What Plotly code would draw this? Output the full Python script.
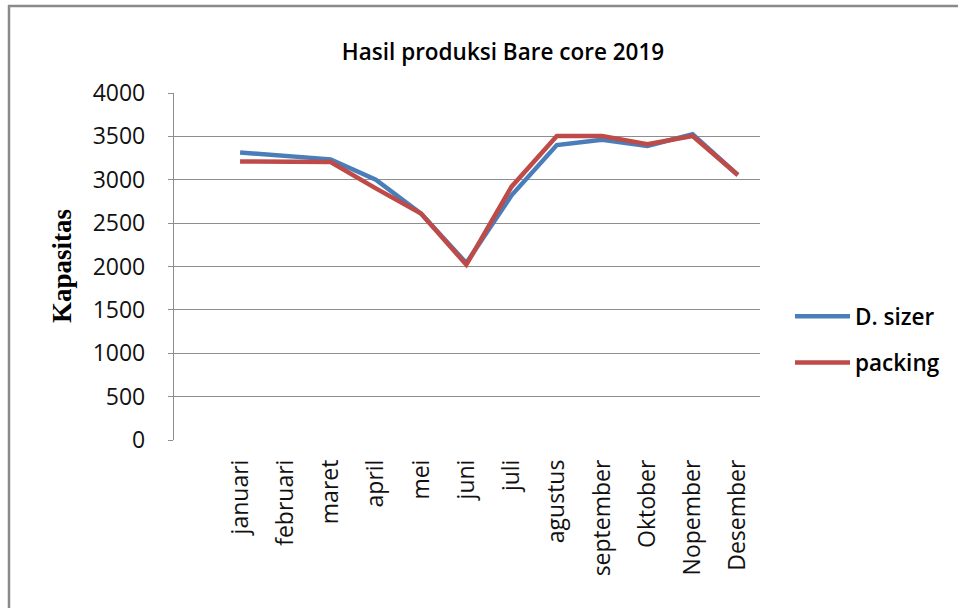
import plotly.graph_objects as go

months = ["januari", "februari", "maret", "april", "mei", "juni", "juli",
          "agustus", "september", "Oktober", "Nopember", "Desember"]
d_sizer = [3315, 3272, 3235, 3000, 2610, 2040, 2820, 3400, 3460, 3390, 3525, 3055]
packing = [3210, 3205, 3205, 2900, 2610, 2020, 2920, 3505, 3505, 3410, 3505, 3055]
y_ticks = [0, 500, 1000, 1500, 2000, 2500, 3000, 3500, 4000]

W, H = 958, 608
L, R, T, B = 174, 760, 93, 440  # plot area pixel box in the window


def px(xp):
    return (xp - L) / (R - L)


def py(yp):
    return (B - yp) / (B - T)


idx = list(range(len(months)))

fig = go.Figure()
fig.add_trace(go.Scatter(x=idx, y=d_sizer, mode="lines", name="D. sizer",
                         legendgroup="a",
                         line=dict(color="#4A7EBB", width=4.5)))
fig.add_trace(go.Scatter(x=idx, y=packing, mode="lines", name="packing",
                         legendgroup="b",
                         line=dict(color="#BE4B48", width=4.5)))

grid = "#8e8e8e"
fig.update_layout(
    width=W, height=H,
    margin=dict(l=L, r=W - R, t=T, b=H - B, pad=0),
    paper_bgcolor="white", plot_bgcolor="white",
    title=dict(text="Hasil produksi Bare core 2019", xref="container", yref="container",
               x=503 / W, xanchor="center", y=1 - 52 / H, yanchor="middle",
               font=dict(family="Open Sans", size=22.5, color="#000", weight=600)),
    xaxis=dict(range=[-1.46, 11.49], tickmode="array", tickvals=idx, ticktext=months,
               tickangle=-90, showgrid=False, zeroline=False, showline=False,
               ticks="", ticklabelstandoff=14,
               tickfont=dict(family="Open Sans", size=23, color="#111")),
    yaxis=dict(range=[0, 4000], tickmode="array", tickvals=y_ticks,
               showgrid=True, gridcolor=grid, gridwidth=1.3, zeroline=False,
               showline=True, linecolor=grid, linewidth=1.3,
               ticks="outside", ticklen=5, tickcolor=grid, ticklabelstandoff=18,
               tickfont=dict(family="Open Sans", size=23, color="#111")),
    legend=dict(x=px(790), xanchor="left", y=py(295), yanchor="top",
                bgcolor="rgba(0,0,0,0)", tracegroupgap=14, itemwidth=55,
                font=dict(family="Open Sans", size=22.5, color="#000", weight=600)),
    showlegend=True,
    annotations=[dict(text="<b>Kapasitas</b>", xref="paper", yref="paper",
                      x=px(62), y=py(266), xanchor="center", yanchor="middle",
                      textangle=-90, showarrow=False,
                      font=dict(family="Liberation Serif", size=27, color="#000"))],
    shapes=[
        dict(type="line", xref="paper", yref="paper", x0=px(8), x1=px(970),
             y0=py(6), y1=py(6), line=dict(color="#8a8a8a", width=2.5)),
        dict(type="line", xref="paper", yref="paper", x0=px(9), x1=px(9),
             y0=py(5), y1=py(620), line=dict(color="#8a8a8a", width=2.5)),
    ],
)

fig.write_html("out.html", config={"displayModeBar": False},
               post_script="document.body.style.margin='0';document.body.style.padding='0';")
